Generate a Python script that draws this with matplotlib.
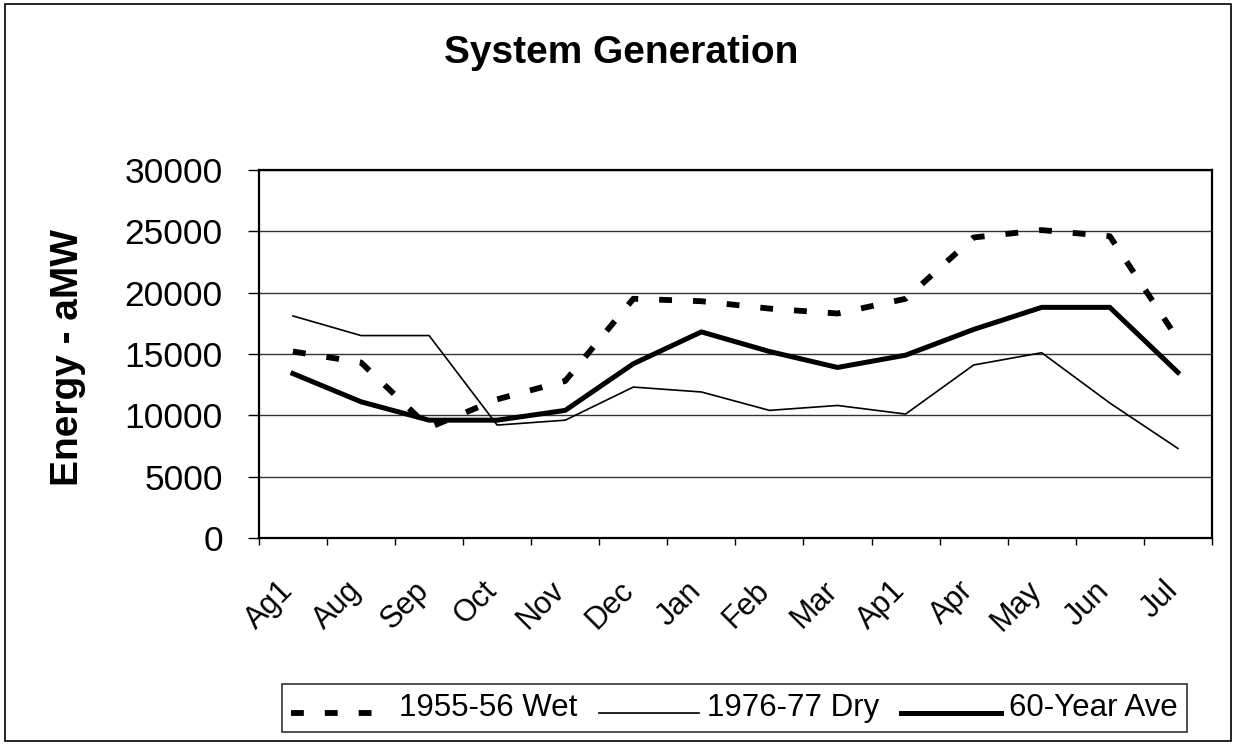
"""
System Generation chart: wet, dry and 60-year average energy by period
"""

import matplotlib
matplotlib.use('Agg')
import matplotlib.pyplot as plt
from matplotlib.patches import Rectangle
from matplotlib.legend_handler import HandlerLine2D
from matplotlib.transforms import ScaledTranslation
import numpy as np

plt.rcParams['font.family'] = ['Liberation Sans', 'DejaVu Sans']

periods = ['Ag1', 'Aug', 'Sep', 'Oct', 'Nov', 'Dec', 'Jan', 'Feb', 'Mar',
           'Ap1', 'Apr', 'May', 'Jun', 'Jul']
wet_1955 = [15200, 14300, 9000, 11300, 12800, 19500, 19300, 18700, 18300,
            19500, 24500, 25100, 24600, 16200]
dry_1976 = [18100, 16500, 16500, 9200, 9600, 12300, 11900, 10400, 10800,
            10100, 14100, 15100, 11000, 7300]
ave_60yr = [13400, 11100, 9600, 9600, 10400, 14200, 16800, 15200, 13900,
            14900, 17000, 18800, 18800, 13500]
y_ticks = [0, 5000, 10000, 15000, 20000, 25000, 30000]


class BaselineLine(HandlerLine2D):
    """Legend line drawn near the text baseline, like the old Excel legend."""
    def create_artists(self, legend, orig_handle, xdescent, ydescent,
                       width, height, fontsize, trans):
        return super().create_artists(legend, orig_handle, xdescent,
                                      ydescent + 0.5 * fontsize, width,
                                      height, fontsize, trans)


fig = plt.figure(figsize=(12.36, 7.44), dpi=100)
ax = fig.add_axes([0.2095, 0.277, 0.771, 0.4945])

x = np.arange(len(periods))
ax.plot(x, wet_1955, color='black', linewidth=4.2, linestyle=(0, (2.2, 3.6)),
        dash_capstyle='butt', label='1955-56 Wet')
ax.plot(x, dry_1976, color='black', linewidth=1.2, label='1976-77 Dry')
ax.plot(x, ave_60yr, color='black', linewidth=3.6, label='60-Year Ave')

ax.set_xlim(-0.5, len(periods) - 0.5)
ax.set_ylim(0, 30000)
ax.set_yticks(y_ticks)
ax.set_yticklabels([str(v) for v in y_ticks], fontsize=25.5)
ax.yaxis.grid(True, color='#333333', linewidth=1.0)
ax.set_axisbelow(True)

# category ticks at the boundaries, labels at the centres
ax.set_xticks(np.arange(len(periods) + 1) - 0.5)
ax.set_xticklabels([])
ax.set_xticks(x, minor=True)
ax.set_xticklabels(periods, minor=True, rotation=45, ha='right', va='top',
                   rotation_mode='anchor', fontsize=22)
ax.tick_params(axis='x', which='minor', length=0, pad=27)
ax.tick_params(axis='x', which='major', length=5, width=1, direction='out')
ax.tick_params(axis='y', length=8, width=1, direction='out', pad=18)
shift = ScaledTranslation(-11 / 72, 0, fig.dpi_scale_trans)
for lab in ax.get_xticklabels(minor=True):
    lab.set_transform(lab.get_transform() + shift)

for side in ['left', 'bottom', 'top', 'right']:
    ax.spines[side].set_linewidth(1.6)
    ax.spines[side].set_color('black')

ax.set_ylabel('Energy - aMW', fontsize=28, fontweight='bold')
ax.yaxis.set_label_coords((86 - 259) / 953, 0.49)

fig.text(0.5025, 0.929, 'System Generation', ha='center', va='center',
         fontsize=28, fontweight='bold')

leg = fig.legend(loc='center', bbox_to_anchor=(0.594, 0.0484), ncol=3,
                 fontsize=22.5, frameon=True, fancybox=False,
                 handlelength=3.2, handletextpad=0.25, columnspacing=0.7,
                 borderpad=0.3, borderaxespad=0, edgecolor='black',
                 handler_map={plt.Line2D: BaselineLine()})
leg.get_frame().set_linewidth(1.2)

# outer frame around the whole chart
fig.patches.append(Rectangle((0.004, 0.004), 0.992, 0.99, fill=False,
                             edgecolor='black', linewidth=1.2,
                             transform=fig.transFigure, figure=fig))

fig.savefig('out.png', dpi=100)
